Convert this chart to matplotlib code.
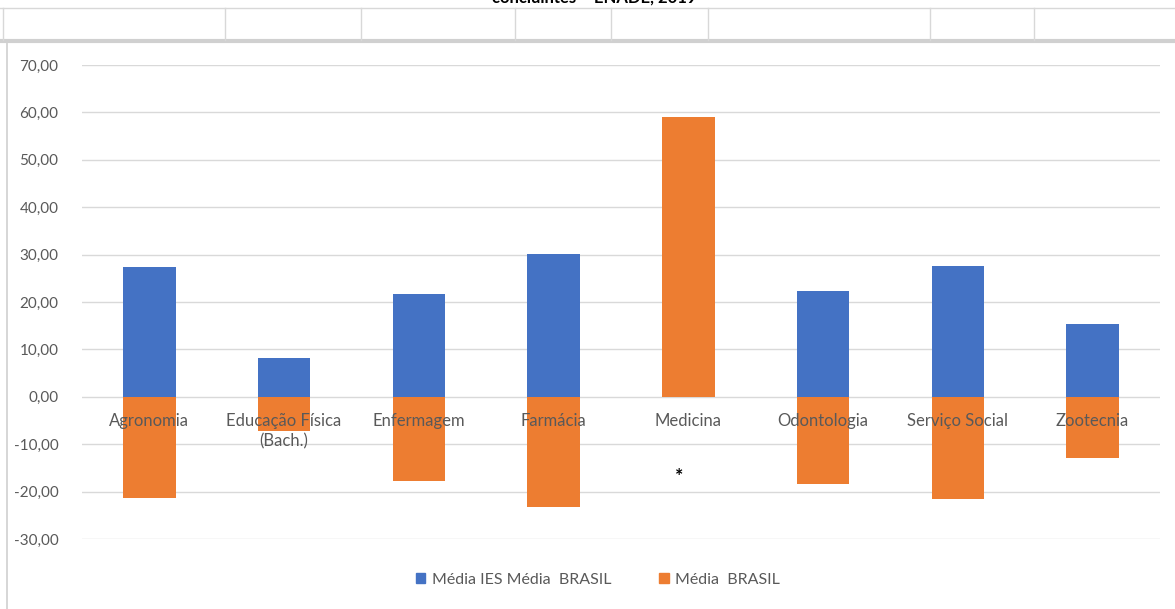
import numpy as np
import matplotlib.pyplot as plt
from matplotlib.lines import Line2D
from matplotlib.patches import Patch

plt.rcParams['font.family'] = ['Lato', 'DejaVu Sans']

# data
cursos = ["Agronomia", "Educação Física\n(Bach.)", "Enfermagem", "Farmácia",
          "Medicina", "Odontologia", "Serviço Social", "Zootecnia"]
media_ies = [27.3, 8.1, 21.6, 30.2, 0.0, 22.4, 27.5, 15.3]
media_brasil = [-21.4, -7.3, -17.8, -23.3, 59.1, -18.4, -21.6, -12.9]
yticks = np.arange(-30, 71, 10)

azul = "#4472C4"
laranja = "#ED7D31"
cinza = "#595959"

W, H = 1175, 609
fig = plt.figure(figsize=(W / 100, H / 100), dpi=100)

def fx(px):
    return px / W

def fy(py):
    return 1 - py / H

# spreadsheet header left over from the screenshot
col_borders = [225, 361, 515, 611, 708, 930, 1034]
fig.add_artist(Line2D([0, 1], [fy(8), fy(8)], transform=fig.transFigure, color="#d8d8d8", lw=1))
fig.add_artist(Line2D([0, 1], [fy(41), fy(41)], transform=fig.transFigure, color="#d0d0d0", lw=3))
for c in col_borders:
    fig.add_artist(Line2D([fx(c), fx(c)], [fy(8), fy(40)], transform=fig.transFigure, color="#d8d8d8", lw=1))
fig.add_artist(Line2D([fx(3), fx(3)], [fy(8), fy(40)], transform=fig.transFigure, color="#d8d8d8", lw=1))
fig.add_artist(Line2D([fx(7), fx(7)], [fy(42), 0], transform=fig.transFigure, color="#d0d0d0", lw=1.2))
fig.text(0.506, fy(-2), "concluintes – ENADE, 2019", ha="center", va="center",
         fontsize=12, fontweight="bold", color="black")

ax = fig.add_axes([fx(82), fy(539), fx(1160) - fx(82), fy(65) - fy(539)])
x = np.arange(len(cursos))
ax.bar(x, media_ies, width=0.39, color=azul, zorder=2)
ax.bar(x, media_brasil, width=0.39, color=laranja, zorder=2)

ax.set_xlim(-0.5, len(cursos) - 0.5)
ax.set_ylim(-30, 70)
ax.set_yticks(yticks)
ax.set_yticklabels([f"{v:.2f}".replace(".", ",") for v in yticks], color=cinza, fontsize=11)
ax.tick_params(axis="y", length=0, pad=17)
ax.set_xticks([])
ax.grid(axis="y", color="#d9d9d9", lw=1, zorder=0)
for s in ax.spines.values():
    s.set_visible(False)

for i, c in enumerate(cursos):
    ax.text(i, -3.4, c, ha="center", va="top", fontsize=12, color=cinza,
            linespacing=1.3, zorder=3)
ax.text(3.93, -16.8, "*", ha="center", va="center", fontsize=14,
        fontweight="bold", color="black")

handles = [Patch(color=azul, label="Média IES Média  BRASIL"),
           Patch(color=laranja, label="Média  BRASIL")]
fig.legend(handles=handles, loc="center", bbox_to_anchor=(fx(598), fy(580)), ncol=2,
           frameon=False, fontsize=11.5, handlelength=0.6, handleheight=0.6,
           handletextpad=0.4, columnspacing=3, labelcolor=cinza)

fig.savefig("out.png", dpi=100, facecolor="white")
